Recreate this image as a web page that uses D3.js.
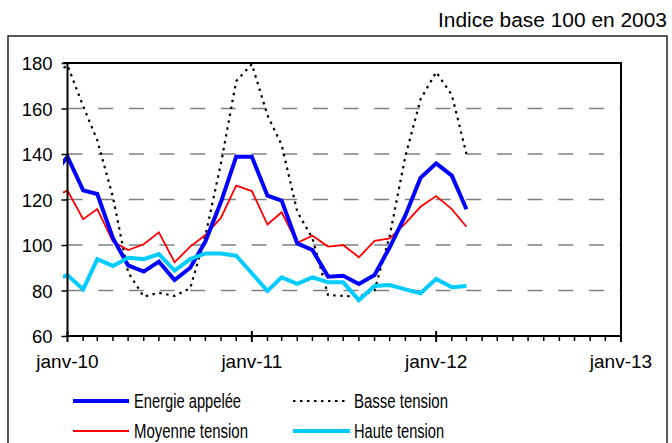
<!DOCTYPE html>
<html><head><meta charset="utf-8">
<script src="https://cdn.jsdelivr.net/npm/d3@7"></script>
<style>body{margin:0;background:#fff}svg{display:block;font-family:"Liberation Sans",Arial,sans-serif}</style>
</head><body>
<script>
const months = ["2009-12","2010-01","2010-02","2010-03","2010-04","2010-05","2010-06","2010-07","2010-08","2010-09","2010-10","2010-11","2010-12",
"2011-01","2011-02","2011-03","2011-04","2011-05","2011-06","2011-07","2011-08","2011-09","2011-10","2011-11","2011-12",
"2012-01","2012-02","2012-03"];
const energie = [130,138.8,124,122.4,103,91,88.3,92.7,84.6,90,101.5,119,138.8,138.8,121.7,119.5,100.7,97.8,86.1,86.5,82.9,86.8,99,113,129.5,135.9,130.5,115.7];
const basse = [174.5,179,161,146,121,88,77.3,79,77.6,81,104,136,172,179.5,157,144,114.6,103,78,77.6,77.3,80,104,139,164,176,166,140];
const moyenne = [121,123.9,111.3,115.8,101.5,97.8,100.3,105.6,92.4,99.3,104.4,112,126.1,123.7,109,114.4,101,104.1,99.3,100,94.6,101.8,102.9,109.5,116.8,121.5,115.8,108];
const haute = [84,86.8,80.5,93.8,90.8,94.4,93.8,96,88.7,93.8,96.3,96.3,95.3,87.6,79.8,85.8,82.9,85.8,83.6,83.6,75.8,82,82.4,80.5,78.8,85.1,81.4,82];
const yTicks = [60,80,100,120,140,160,180];
const xTickLabels = ["janv-10","janv-11","janv-12","janv-13"];
const title = "Indice base 100 en 2003";
const series = [
  {name:"Energie appelée", values:energie, color:"#0000ff", width:4, dash:null},
  {name:"Basse tension", values:basse, color:"#000", width:2.2, dash:"2.5,4.5"},
  {name:"Moyenne tension", values:moyenne, color:"#ff0000", width:1.8, dash:null},
  {name:"Haute tension", values:haute, color:"#00ccff", width:4, dash:null}
];

const W=672,H=443;
const parse=d3.timeParse("%Y-%m");
const dates=months.map(parse);
const svg=d3.select("body").append("svg").attr("width",W).attr("height",H);

// outer frame
svg.append("rect").attr("x",8).attr("y",36).attr("width",659).attr("height",420)
  .attr("fill","none").attr("stroke","#000").attr("stroke-width",1.3);

svg.append("text").attr("x",667).attr("y",27).attr("text-anchor","end")
  .attr("font-size",20).attr("textLength",229).attr("lengthAdjust","spacingAndGlyphs").text(title);

const x=d3.scaleTime().domain([new Date(2010,0,1),new Date(2013,0,1)]).range([67.5,621]);
const y=d3.scaleLinear().domain([60,180]).range([336,63]);
const plotLeft=63;

// gridlines
svg.append("g").selectAll("line").data(yTicks.filter(v=>v>60&&v<180)).join("line")
  .attr("x1",x.range()[0]).attr("x2",x.range()[1]).attr("y1",d=>y(d)).attr("y2",d=>y(d))
  .attr("stroke","#808080").attr("stroke-width",1.4).attr("stroke-dasharray","15,15.67");

// plot border top/right
svg.append("path").attr("d",`M${plotLeft},${y(180)}H${x.range()[1]}V${y(60)}`)
  .attr("fill","none").attr("stroke","#000").attr("stroke-width",2);

// clip
svg.append("clipPath").attr("id","clip").append("rect")
  .attr("x",plotLeft).attr("y",55).attr("width",x.range()[1]-plotLeft).attr("height",290);

const line=d3.line().x((d,i)=>x(dates[i])).y(d=>y(d));
const g=svg.append("g").attr("clip-path","url(#clip)");
[series[1],series[2],series[0],series[3]].forEach(s=>{
  g.append("path").attr("d",line(s.values)).attr("fill","none")
   .attr("stroke",s.color).attr("stroke-width",s.width)
   .attr("stroke-dasharray",s.dash).attr("stroke-linejoin","miter");
});

// y axis
const ya=svg.append("g").attr("transform",`translate(${x.range()[0]},0)`)
  .call(d3.axisLeft(y).tickValues(yTicks).tickSize(6).tickPadding(9).tickFormat(d3.format("d")));
ya.select(".domain").attr("stroke","#000").attr("stroke-width",2).attr("d",`M0,${y(180)}V${y(60)}`);
ya.selectAll(".tick line").attr("stroke","#000").attr("stroke-width",1.5);
ya.selectAll("text").attr("font-size",18.5).attr("font-family","Liberation Sans, Arial").attr("fill","#000").attr("dy","0.36em");

// x axis
const monthTicks=d3.timeMonth.range(new Date(2010,0,1),new Date(2013,0,2));
const xa=svg.append("g").attr("transform",`translate(0,${y(60)})`);
xa.append("line").attr("x1",x.range()[0]-1).attr("x2",x.range()[1]).attr("stroke","#000").attr("stroke-width",2);
xa.selectAll("line.m").data(monthTicks).join("line").attr("class","m")
  .attr("x1",d=>x(d)).attr("x2",d=>x(d))
  .attr("y1",d=>d.getMonth()===0?-5:0).attr("y2",d=>d.getMonth()===0?6:5)
  .attr("stroke","#000").attr("stroke-width",d=>d.getMonth()===0?2:1.5);
const yearTicks=monthTicks.filter(d=>d.getMonth()===0);
xa.selectAll("text").data(yearTicks).join("text")
  .attr("x",d=>x(d)).attr("y",32).attr("text-anchor","middle").attr("font-size",19)
  .text((d,i)=>xTickLabels[i]);

// legend
const leg=[
  {s:series[0],x:73,y:401,len:56,tx:134,tl:107},
  {s:series[1],x:293,y:401,len:52,tx:354,tl:94},
  {s:series[2],x:73,y:431,len:56,tx:134,tl:114},
  {s:series[3],x:293,y:431,len:57,tx:354,tl:90}
];
leg.forEach(l=>{
  svg.append("line").attr("x1",l.x).attr("x2",l.x+l.len).attr("y1",l.y).attr("y2",l.y)
    .attr("stroke",l.s.color).attr("stroke-width",l.s.width).attr("stroke-dasharray",l.s.dash);
  svg.append("text").attr("x",l.tx).attr("y",l.y+7).attr("font-size",19.5)
    .attr("textLength",l.tl).attr("lengthAdjust","spacingAndGlyphs").text(l.s.name);
});
</script>
</body></html>
